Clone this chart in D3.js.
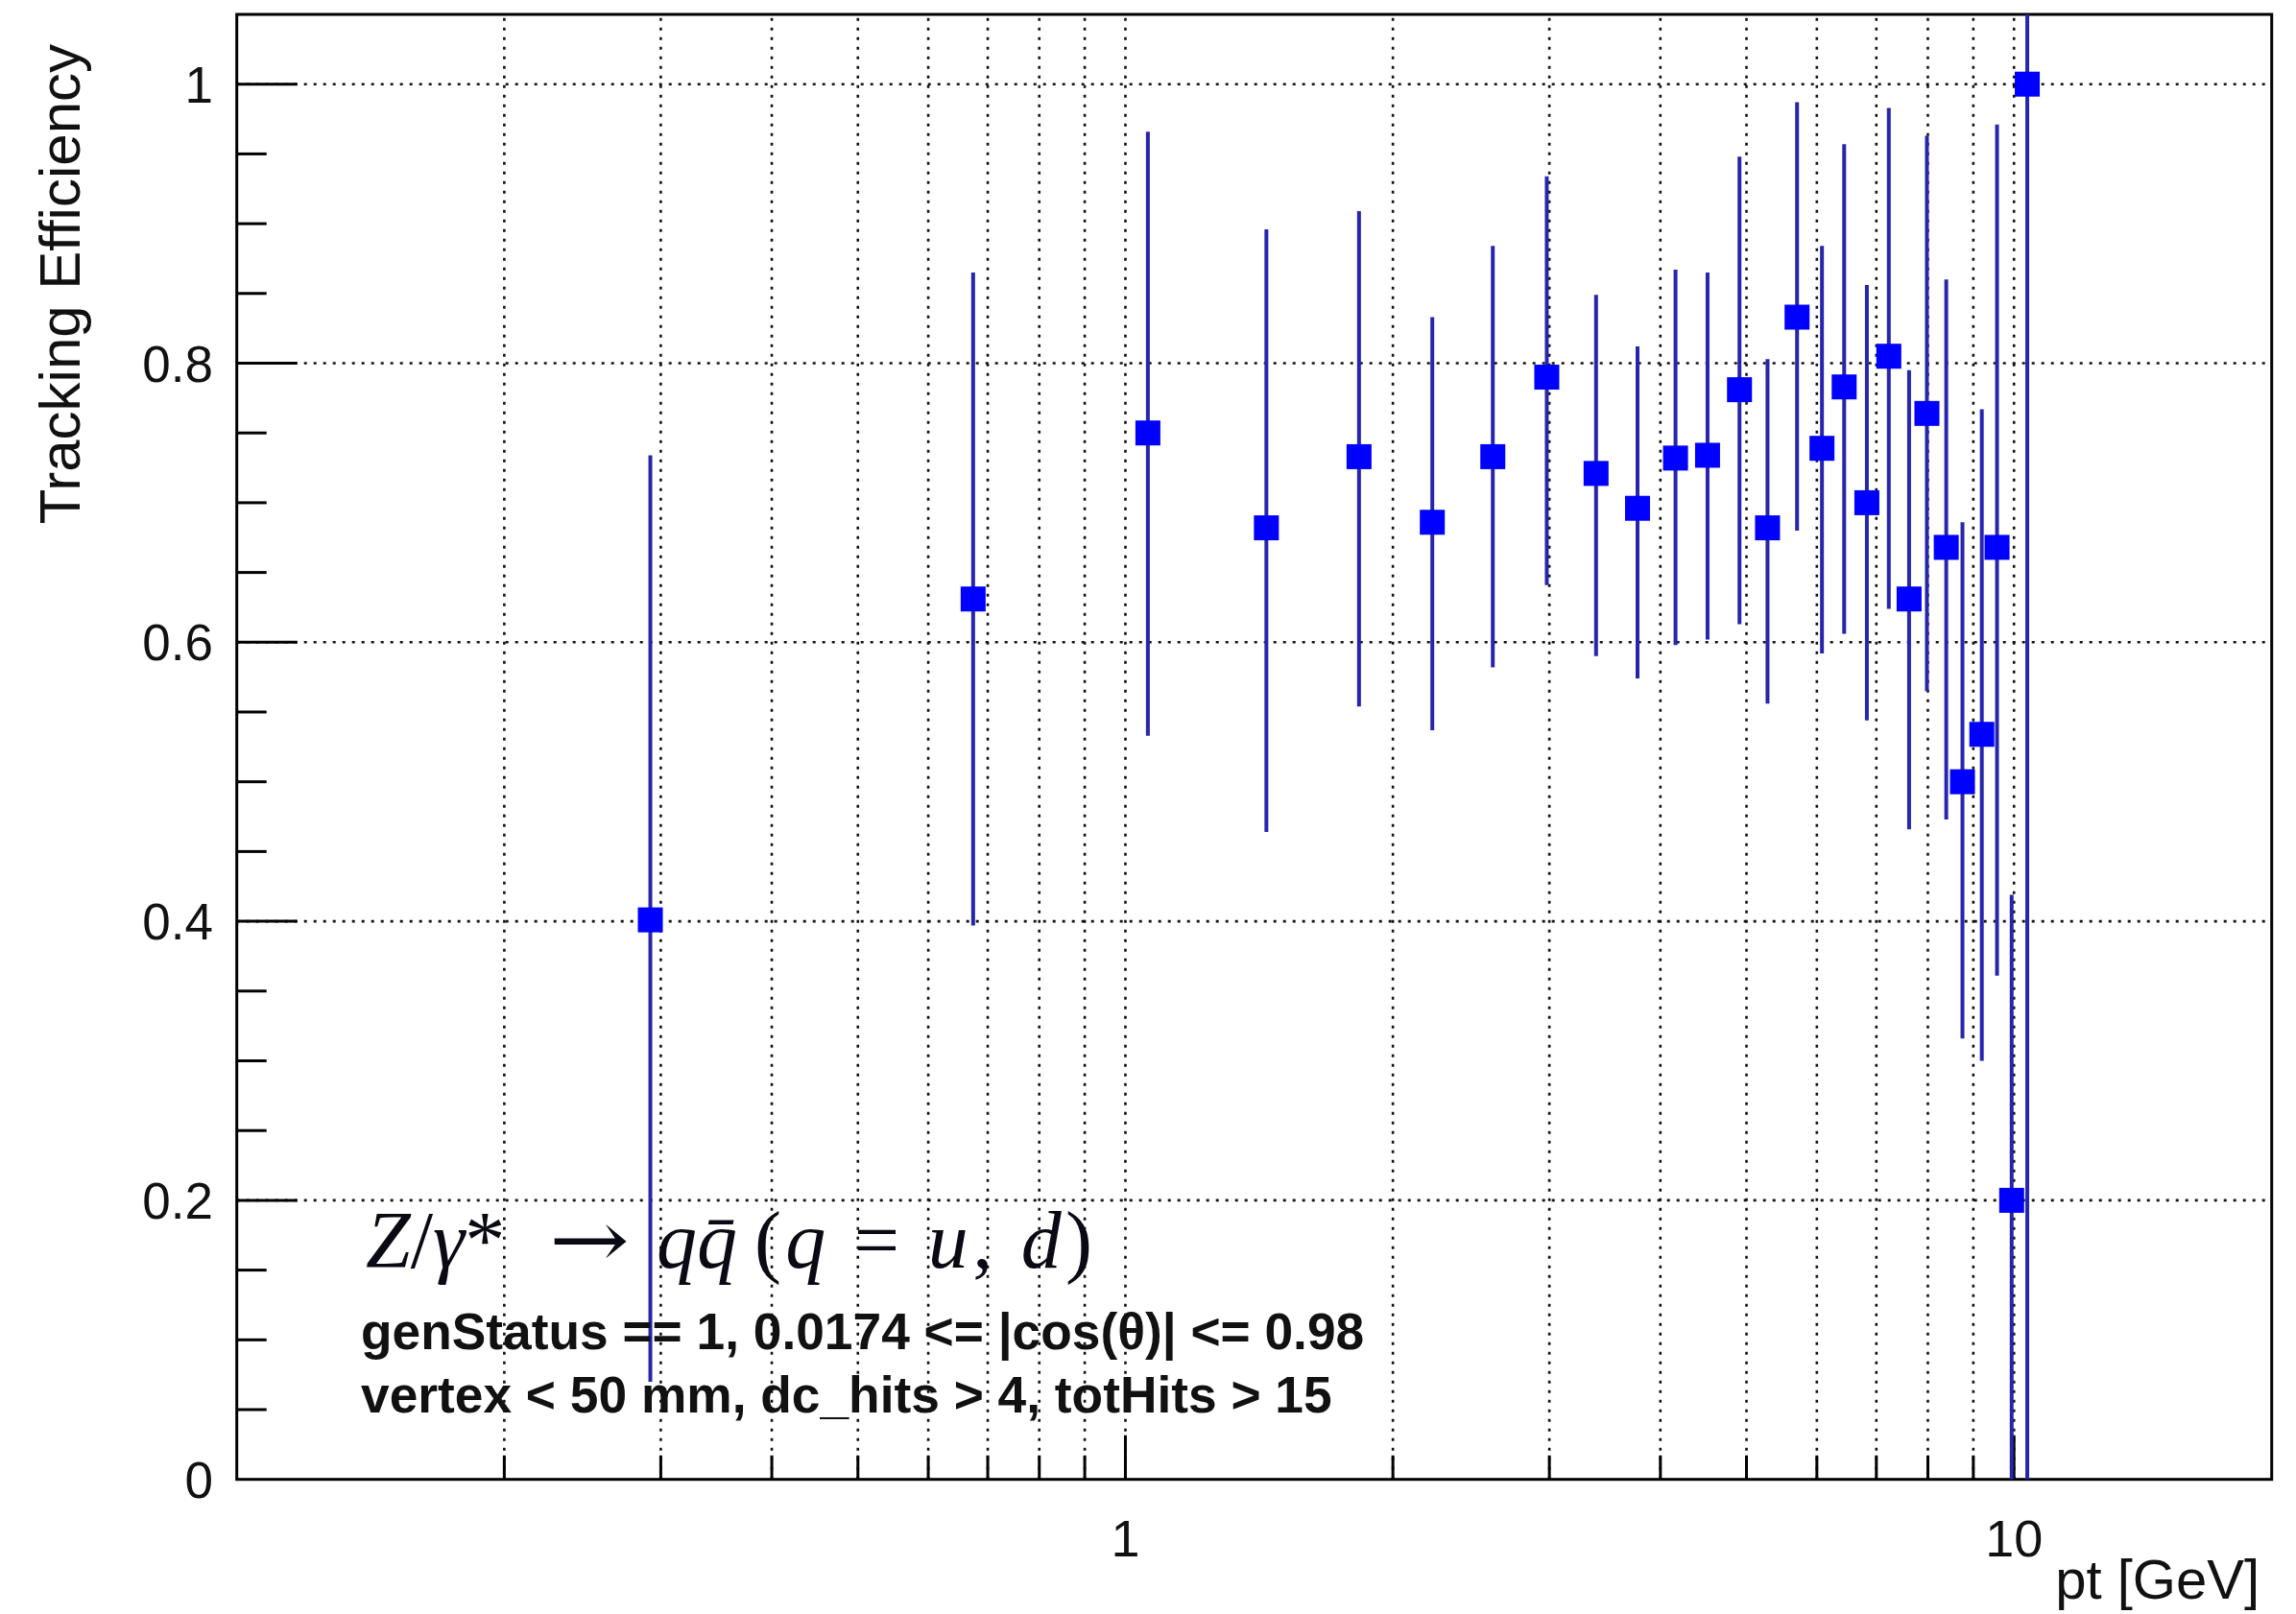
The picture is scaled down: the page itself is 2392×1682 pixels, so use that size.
<!DOCTYPE html>
<html>
<head>
<meta charset="utf-8">
<script src="https://cdn.jsdelivr.net/npm/d3@7"></script>
<style>
  html, body { margin: 0; padding: 0; background: #fff; }
  svg { display: block; }
</style>
</head>
<body>
<svg id="chart"></svg>
<script>
'use strict';

// bin centres in pt [GeV]
var ptValues = [0.292, 0.674, 1.06, 1.441, 1.832, 2.215, 2.591, 2.98, 3.386, 3.77,
    4.16, 4.52, 4.91, 5.28, 5.70, 6.08, 6.44, 6.83, 7.23, 7.62,
    7.98, 8.39, 8.75, 9.20, 9.57, 9.94, 10.35];

// tracking efficiency per bin
var efficiency = [0.401, 0.631, 0.750, 0.682, 0.733, 0.686, 0.733, 0.790, 0.721, 0.696,
    0.732, 0.734, 0.781, 0.682, 0.833, 0.739, 0.783, 0.700, 0.805, 0.631,
    0.764, 0.668, 0.500, 0.534, 0.668, 0.200, 1.000];

// upper / lower end of the error bars
var errUpper = [0.734, 0.865, 0.966, 0.896, 0.909, 0.833, 0.884, 0.934, 0.849, 0.812,
    0.867, 0.865, 0.948, 0.803, 0.987, 0.884, 0.957, 0.856, 0.983, 0.795,
    0.963, 0.860, 0.686, 0.767, 0.971, 0.419, 1.10];
var errLower = [0.070, 0.397, 0.533, 0.464, 0.554, 0.537, 0.582, 0.641, 0.590, 0.574,
    0.598, 0.602, 0.613, 0.556, 0.680, 0.592, 0.606, 0.544, 0.624, 0.466,
    0.565, 0.473, 0.316, 0.300, 0.361, 0.0, 0.0];

var xDomain = [0.1, 19.5];
var yDomain = [0, 1.05];
var xTickLabels = [1, 10];
var yTickLabels = [0, 0.2, 0.4, 0.6, 0.8, 1];

var xTitle = 'pt [GeV]';
var yTitle = 'Tracking Efficiency';
var cutLine1 = 'genStatus == 1, 0.0174 <= |cos(\u03b8)| <= 0.98';
var cutLine2 = 'vertex < 50 mm, dc_hits > 4, totHits > 15';

// Setting up the canvas
var canvasWidth = 2392;
var canvasHeight = 1682;
var frame = { left: 246.7, right: 2366.7, top: 15, bottom: 1541.7 };

var sans = '"Liberation Sans", Arial, Helvetica, sans-serif';
var serif = '"Liberation Serif", "Times New Roman", serif';

var svg = d3.select('#chart')
    .attr('width', canvasWidth)
    .attr('height', canvasHeight);

var xScale = d3.scaleLog()
    .domain(xDomain)
    .range([frame.left, frame.right]);
var yScale = d3.scaleLinear()
    .domain(yDomain)
    .range([frame.bottom, frame.top]);

var data = ptValues.map(function (pt, i) {
    return { pt: pt, eff: efficiency[i], hi: errUpper[i], lo: errLower[i] };
});

svg.append('clipPath')
    .attr('id', 'frameClip')
    .append('rect')
    .attr('x', frame.left)
    .attr('y', frame.top)
    .attr('width', frame.right - frame.left)
    .attr('height', frame.bottom - frame.top);

// ticks on both axes
var xTicks = xScale.ticks().filter(function (t) { return t > xDomain[0] && t < xDomain[1]; });
var yTicks = yScale.ticks(21).filter(function (t) { return t > 0 && t < 1.04; });

function isMajorY(t) {
    return Math.round(t * 100) % 20 === 0;
}
function isMajorX(t) {
    return Math.abs(Math.log10(t) - Math.round(Math.log10(t))) < 1e-6;
}

// dotted grid
var grid = svg.append('g').attr('class', 'grid')
    .attr('stroke', '#111')
    .attr('stroke-width', 2.6)
    .attr('stroke-dasharray', '3,7');

grid.selectAll('.vgrid')
    .data(xTicks)
    .enter()
    .append('line')
    .attr('x1', function (d) { return xScale(d); })
    .attr('x2', function (d) { return xScale(d); })
    .attr('y1', frame.bottom)
    .attr('y2', frame.top);

grid.selectAll('.hgrid')
    .data(yTicks.filter(isMajorY))
    .enter()
    .append('line')
    .attr('x1', frame.left)
    .attr('x2', frame.right)
    .attr('y1', function (d) { return yScale(d); })
    .attr('y2', function (d) { return yScale(d); });

// tick marks (inside the frame, like ROOT)
var ticks = svg.append('g').attr('stroke', '#000').attr('stroke-width', 3);

ticks.selectAll('.ytick')
    .data(yTicks)
    .enter()
    .append('line')
    .attr('x1', frame.left)
    .attr('x2', function (d) { return frame.left + (isMajorY(d) ? 63 : 31); })
    .attr('y1', function (d) { return yScale(d); })
    .attr('y2', function (d) { return yScale(d); });

ticks.selectAll('.xtick')
    .data(xTicks)
    .enter()
    .append('line')
    .attr('x1', function (d) { return xScale(d); })
    .attr('x2', function (d) { return xScale(d); })
    .attr('y1', frame.bottom)
    .attr('y2', function (d) { return frame.bottom - (isMajorX(d) ? 46 : 25); });

// frame
svg.append('rect')
    .attr('x', frame.left)
    .attr('y', frame.top)
    .attr('width', frame.right - frame.left)
    .attr('height', frame.bottom - frame.top)
    .attr('fill', 'none')
    .attr('stroke', '#000')
    .attr('stroke-width', 3);

// tick labels
svg.append('g').selectAll('text')
    .data(yTickLabels)
    .enter()
    .append('text')
    .attr('x', 222)
    .attr('y', function (d) { return yScale(d); })
    .attr('dy', '0.36em')
    .attr('text-anchor', 'end')
    .attr('font-family', sans)
    .attr('font-size', 53)
    .attr('fill', '#111')
    .text(function (d) { return d3.format('~g')(d); });

svg.append('g').selectAll('text')
    .data(xTickLabels)
    .enter()
    .append('text')
    .attr('x', function (d) { return xScale(d); })
    .attr('y', 1622)
    .attr('text-anchor', 'middle')
    .attr('font-family', sans)
    .attr('font-size', 54)
    .attr('fill', '#111')
    .text(function (d) { return d; });

// axis titles
svg.append('text')
    .attr('x', 2354)
    .attr('y', 1666)
    .attr('text-anchor', 'end')
    .attr('font-family', sans)
    .attr('font-size', 58)
    .attr('fill', '#111')
    .text(xTitle);

svg.append('text')
    .attr('transform', 'translate(83,46) rotate(-90)')
    .attr('text-anchor', 'end')
    .attr('font-family', sans)
    .attr('font-size', 60)
    .attr('fill', '#111')
    .text(yTitle);

// error bars and markers
var points = svg.append('g').attr('clip-path', 'url(#frameClip)');

points.selectAll('.err')
    .data(data)
    .enter()
    .append('line')
    .attr('class', 'err')
    .attr('x1', function (d) { return xScale(d.pt); })
    .attr('x2', function (d) { return xScale(d.pt); })
    .attr('y1', function (d) { return yScale(d.lo); })
    .attr('y2', function (d) { return yScale(d.hi); })
    .attr('stroke', '#2626ad')
    .attr('stroke-width', 4);

var markerSize = 26;
points.selectAll('.marker')
    .data(data)
    .enter()
    .append('rect')
    .attr('class', 'marker')
    .attr('x', function (d) { return xScale(d.pt) - markerSize / 2; })
    .attr('y', function (d) { return yScale(d.eff) - markerSize / 2; })
    .attr('width', markerSize)
    .attr('height', markerSize)
    .attr('fill', '#0000ff');

// process label, LaTeX style, set as four groups like TLatex does
// each group: [x, width or null, font, pieces]  (pieces: [text, italic])
var procGroups = [
    [381, null, serif, [['Z', true], ['/', false], ['\u03b3', true], ['*', false]]],
    [572, 84, '"DejaVu Serif", serif', [['\u2192', false]]],
    [684, null, serif, [['q', true], ['q\u0304', true]]],
    [786, 352, serif, [['(', false], ['q', true], [' = ', false], ['u', true],
        [', ', false], ['d', true], [')', false]]]
];

var procLabel = svg.append('g')
    .attr('fill', '#0a0a14')
    .attr('font-size', 84);

procGroups.forEach(function (grp) {
    var t = procLabel.append('text')
        .attr('x', grp[0])
        .attr('y', 1321)
        .attr('font-family', grp[2])
        .attr('xml:space', 'preserve');
    if (grp[1]) {
        t.attr('textLength', grp[1])
            .attr('lengthAdjust', grp[3].length > 1 ? 'spacing' : 'spacingAndGlyphs');
    }
    t.selectAll('tspan')
        .data(grp[3])
        .enter()
        .append('tspan')
        .attr('font-style', function (d) { return d[1] ? 'italic' : 'normal'; })
        .text(function (d) { return d[0]; });
});

// selection cuts
svg.append('text')
    .attr('x', 376)
    .attr('y', 1406)
    .attr('font-family', sans)
    .attr('font-weight', 'bold')
    .attr('font-size', 53.3)
    .attr('fill', '#111')
    .text(cutLine1);

svg.append('text')
    .attr('x', 376)
    .attr('y', 1472)
    .attr('font-family', sans)
    .attr('font-weight', 'bold')
    .attr('font-size', 53.3)
    .attr('fill', '#111')
    .text(cutLine2);
</script>
</body>
</html>
